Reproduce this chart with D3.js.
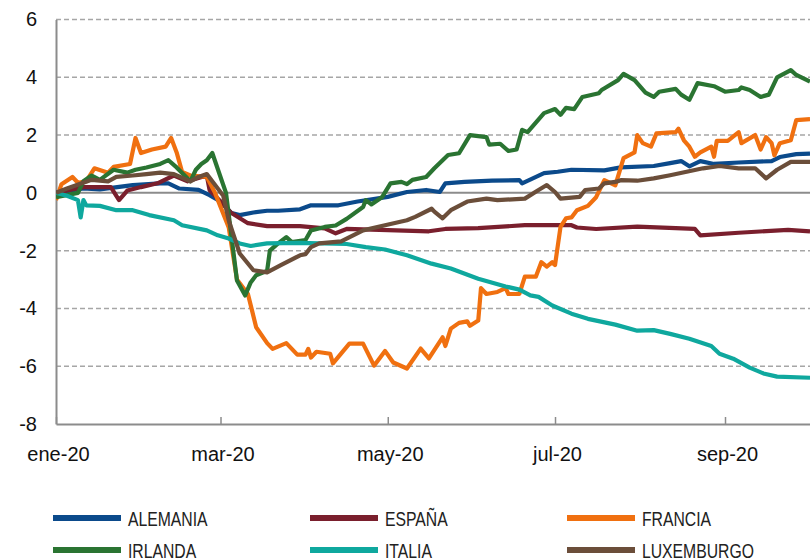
<!DOCTYPE html>
<html>
<head>
<meta charset="utf-8">
<script src="https://cdn.jsdelivr.net/npm/d3@7"></script>
<style>
  body { margin: 0; background: #fff; }
  svg { display: block; font-family: "Liberation Sans", Arial, sans-serif; }
</style>
</head>
<body>
<svg width="810" height="560"></svg>
<script>
// series: [day since 1 jan 2020, value]
var alemania = [[0,0],[10,0.15],[16,0.12],[28,0.27],[38,0.33],[41,0.33],[45,0.15],[52,0.1],[56,-0.08],[60,-0.3],[64,-0.7],[67,-0.77],[72,-0.68],[77,-0.62],[81,-0.62],[89,-0.57],[93,-0.43],[103,-0.43],[110,-0.3],[121,-0.14],[128,0.03],[135,0.1],[140,0.03],[142,0.33],[149,0.38],[159,0.42],[169,0.44],[170,0.33],[178,0.68],[183,0.73],[188,0.8],[200,0.78],[206,0.88],[218,0.93],[224,1.03],[228,1.1],[231,0.92],[235,1.1],[240,1.0],[249,1.05],[261,1.1],[264,1.24],[270,1.34],[275,1.36]];
var espana = [[0,0],[5,0.1],[10,0.2],[20,0.2],[23,-0.25],[26,0.08],[31,0.2],[37,0.33],[43,0.6],[48,0.4],[55,0.6],[56,0.1],[60,-0.3],[64,-0.7],[70,-1.05],[77,-1.15],[89,-1.15],[98,-1.23],[102,-1.4],[106,-1.25],[118,-1.28],[136,-1.33],[142,-1.25],[154,-1.22],[171,-1.12],[188,-1.12],[190,-1.2],[197,-1.25],[212,-1.17],[233,-1.25],[235,-1.47],[249,-1.38],[267,-1.28],[275,-1.33]];
var francia = [[0,-0.25],[2,0.3],[6,0.55],[8,0.35],[11,0.4],[14,0.85],[19,0.7],[21,0.9],[27,1.0],[29,1.9],[31,1.38],[35,1.5],[40,1.6],[42,1.9],[44,1.4],[46,0.72],[49,0.6],[55,0.55],[58,0],[63,-1.2],[66,-3.0],[70,-3.5],[73,-4.65],[77,-5.2],[79,-5.4],[84,-5.2],[88,-5.6],[91,-5.6],[92,-5.4],[93,-5.7],[95,-5.5],[100,-5.57],[101,-5.9],[107,-5.22],[112,-5.22],[116,-5.98],[120,-5.47],[123,-5.87],[128,-6.08],[133,-5.39],[136,-5.73],[141,-5.0],[142,-5.3],[144,-4.7],[147,-4.5],[150,-4.45],[151,-4.6],[154,-4.42],[155,-3.3],[157,-3.5],[161,-3.43],[164,-3.3],[165,-3.5],[169,-3.5],[171,-2.9],[175,-2.9],[177,-2.4],[179,-2.55],[181,-2.4],[182,-2.5],[184,-1.18],[186,-0.88],[188,-0.85],[190,-0.6],[194,-0.45],[197,-0.15],[200,0.44],[204,0.26],[207,1.2],[211,1.4],[212,2.0],[214,1.72],[217,1.6],[219,2.06],[226,2.1],[227,2.22],[229,1.82],[231,1.6],[233,1.25],[235,1.4],[239,1.6],[240,1.25],[241,1.8],[245,1.8],[249,2.1],[250,1.72],[255,2.0],[257,1.5],[259,1.93],[261,1.72],[262,1.3],[264,1.72],[268,1.82],[270,2.52],[275,2.55]];
var irlanda = [[0,-0.15],[8,0],[10,0.4],[13,0.6],[16,0.45],[21,0.8],[26,0.7],[29,0.8],[33,0.88],[38,1.0],[41,1.13],[44,0.88],[49,0.4],[51,0.8],[53,1.0],[55,1.13],[57,1.38],[60,0.55],[62,0],[63,-0.75],[66,-3.03],[69,-3.55],[71,-3.1],[73,-2.85],[77,-2.7],[78,-2.0],[81,-1.75],[84,-1.53],[86,-1.7],[91,-1.63],[93,-1.3],[98,-1.18],[102,-1.13],[106,-0.9],[112,-0.49],[113,-0.25],[115,-0.4],[119,-0.14],[122,0.33],[126,0.38],[128,0.3],[130,0.45],[135,0.55],[138,0.85],[143,1.31],[147,1.37],[151,2.0],[157,1.93],[158,1.67],[162,1.7],[165,1.45],[168,1.5],[170,2.18],[172,2.1],[178,2.76],[182,2.9],[184,2.7],[186,2.94],[189,2.9],[192,3.32],[198,3.45],[199,3.56],[205,3.9],[207,4.12],[211,3.9],[215,3.47],[218,3.32],[220,3.5],[226,3.6],[228,3.4],[231,3.22],[234,3.8],[240,3.69],[244,3.5],[249,3.56],[250,3.65],[253,3.56],[257,3.32],[260,3.4],[263,4.0],[268,4.25],[270,4.08],[275,3.85]];
var italia = [[0,0],[4,-0.1],[8,-0.25],[9,-0.85],[10,-0.25],[11,-0.43],[16,-0.45],[22,-0.6],[28,-0.6],[34,-0.77],[43,-0.95],[46,-1.12],[55,-1.3],[59,-1.47],[63,-1.58],[67,-1.75],[71,-1.84],[77,-1.75],[89,-1.73],[106,-1.77],[113,-1.88],[120,-1.96],[128,-2.16],[137,-2.45],[144,-2.62],[154,-2.97],[164,-3.24],[169,-3.35],[173,-3.55],[176,-3.6],[181,-3.9],[188,-4.18],[194,-4.36],[204,-4.56],[212,-4.77],[218,-4.75],[224,-4.88],[231,-5.05],[239,-5.3],[242,-5.57],[247,-5.74],[253,-6.05],[258,-6.25],[263,-6.36],[275,-6.4]];
var luxemburgo = [[0,0],[4,0.15],[13,0.45],[19,0.4],[22,0.55],[28,0.6],[33,0.65],[38,0.7],[43,0.65],[49,0.4],[52,0.55],[55,0.65],[57,0.4],[61,-0.1],[63,-0.95],[67,-2.1],[72,-2.68],[77,-2.75],[82,-2.5],[89,-2.16],[91,-2.12],[93,-1.88],[96,-1.75],[104,-1.68],[112,-1.3],[120,-1.12],[128,-0.95],[131,-0.83],[137,-0.55],[138,-0.65],[141,-0.88],[144,-0.6],[150,-0.3],[157,-0.2],[161,-0.25],[171,-0.2],[176,0.1],[179,0.27],[182,0.03],[184,-0.2],[191,-0.14],[193,0.1],[198,0.15],[200,0.33],[204,0.38],[206,0.44],[212,0.42],[218,0.5],[224,0.61],[230,0.73],[236,0.85],[242,0.93],[249,0.85],[255,0.85],[259,0.5],[263,0.8],[268,1.07],[275,1.07]];

var names = ['ALEMANIA', 'ESPAÑA', 'FRANCIA', 'IRLANDA', 'ITALIA', 'LUXEMBURGO'];
var colors = ['#0b4a8b', '#7a1f2d', '#f07010', '#2a7432', '#0fa89e', '#6b4e3a'];
var yTicks = [-8, -6, -4, -2, 0, 2, 4, 6];
var xTickDates = ['2020-01-01', '2020-03-01', '2020-05-01', '2020-07-01', '2020-09-01'];
var monthNames = ['ene', 'feb', 'mar', 'abr', 'may', 'jun', 'jul', 'ago', 'sep', 'oct', 'nov', 'dic'];

var allSeries = [alemania, espana, francia, irlanda, italia, luxemburgo];

var svg = d3.select('svg');
var start = new Date(2020, 0, 1);
var parse = d3.timeParse('%Y-%m-%d');

var x = d3.scaleTime()
  .domain([start, new Date(2020, 9, 2)])
  .range([56, 810]);
var y = d3.scaleLinear()
  .domain([-8, 6])
  .range([424, 19.5]);

function dayToDate(d){
  return d3.timeDay.offset(start, d);
}

// dashed gridlines
svg.append('g').selectAll('line')
  .data(yTicks.filter(function(t){ return t !== 0 && t !== -8; }))
  .enter().append('line')
  .attr('x1', 56).attr('x2', 810)
  .attr('y1', function(d){ return y(d); })
  .attr('y2', function(d){ return y(d); })
  .attr('stroke', '#a6a6a6')
  .attr('stroke-width', 1.5)
  .attr('stroke-dasharray', '5,3');

// zero line
svg.append('line')
  .attr('x1', 56).attr('x2', 810)
  .attr('y1', y(0)).attr('y2', y(0))
  .attr('stroke', '#8c8c8c')
  .attr('stroke-width', 2);

// y axis (plain hyphen for negatives, like the original)
var yAxis = d3.axisLeft(y).tickValues(yTicks).tickSize(0).tickPadding(19)
  .tickFormat(function(d){ return String(d); });
var gy = svg.append('g').attr('transform', 'translate(56,0)').call(yAxis);
gy.select('.domain').attr('stroke', '#8c8c8c').attr('stroke-width', 2);
gy.selectAll('text')
  .attr('font-size', '20px')
  .attr('fill', '#111')
  .attr('font-family', '"Liberation Sans", Arial, sans-serif');

// x axis, ticks pointing up
var xAxis = d3.axisBottom(x)
  .tickValues(xTickDates.map(parse))
  .tickSizeInner(-7)
  .tickSizeOuter(0)
  .tickPadding(23)
  .tickFormat(function(d){ return monthNames[d.getMonth()] + '-' + String(d.getFullYear()).slice(2); });
var gx = svg.append('g').attr('transform', 'translate(0,424)').call(xAxis);
gx.select('.domain').attr('stroke', '#8c8c8c').attr('stroke-width', 2);
gx.selectAll('.tick line').attr('stroke', '#8c8c8c').attr('stroke-width', 1.5);
gx.selectAll('text')
  .attr('font-size', '20px')
  .attr('fill', '#111')
  .attr('dx', 2)
  .attr('font-family', '"Liberation Sans", Arial, sans-serif');

// clip lines to plot
svg.append('clipPath').attr('id', 'plot')
  .append('rect').attr('x', 56).attr('y', 0).attr('width', 754).attr('height', 424);

var line = d3.line()
  .x(function(d){ return x(dayToDate(d[0])); })
  .y(function(d){ return y(d[1]); });

svg.append('g').attr('clip-path', 'url(#plot)')
  .selectAll('path')
  .data(allSeries)
  .enter().append('path')
  .attr('d', line)
  .attr('fill', 'none')
  .attr('stroke', function(d, i){ return colors[i]; })
  .attr('stroke-width', 4.2)
  .attr('stroke-linejoin', 'round');

// legend, 3 columns x 2 rows
var legend = svg.append('g').selectAll('g')
  .data(names)
  .enter().append('g')
  .attr('transform', function(d, i){
    return 'translate(' + (53 + (i % 3) * 257) + ',' + (518 + Math.floor(i / 3) * 32) + ')';
  });

legend.append('line')
  .attr('x1', 0).attr('x2', 68)
  .attr('stroke', function(d, i){ return colors[i]; })
  .attr('stroke-width', 6);

legend.append('text')
  .attr('transform', 'translate(75,8) scale(0.75,1)')
  .attr('font-size', '21px')
  .attr('fill', '#222')
  .text(function(d){ return d; });
</script>
</body>
</html>
